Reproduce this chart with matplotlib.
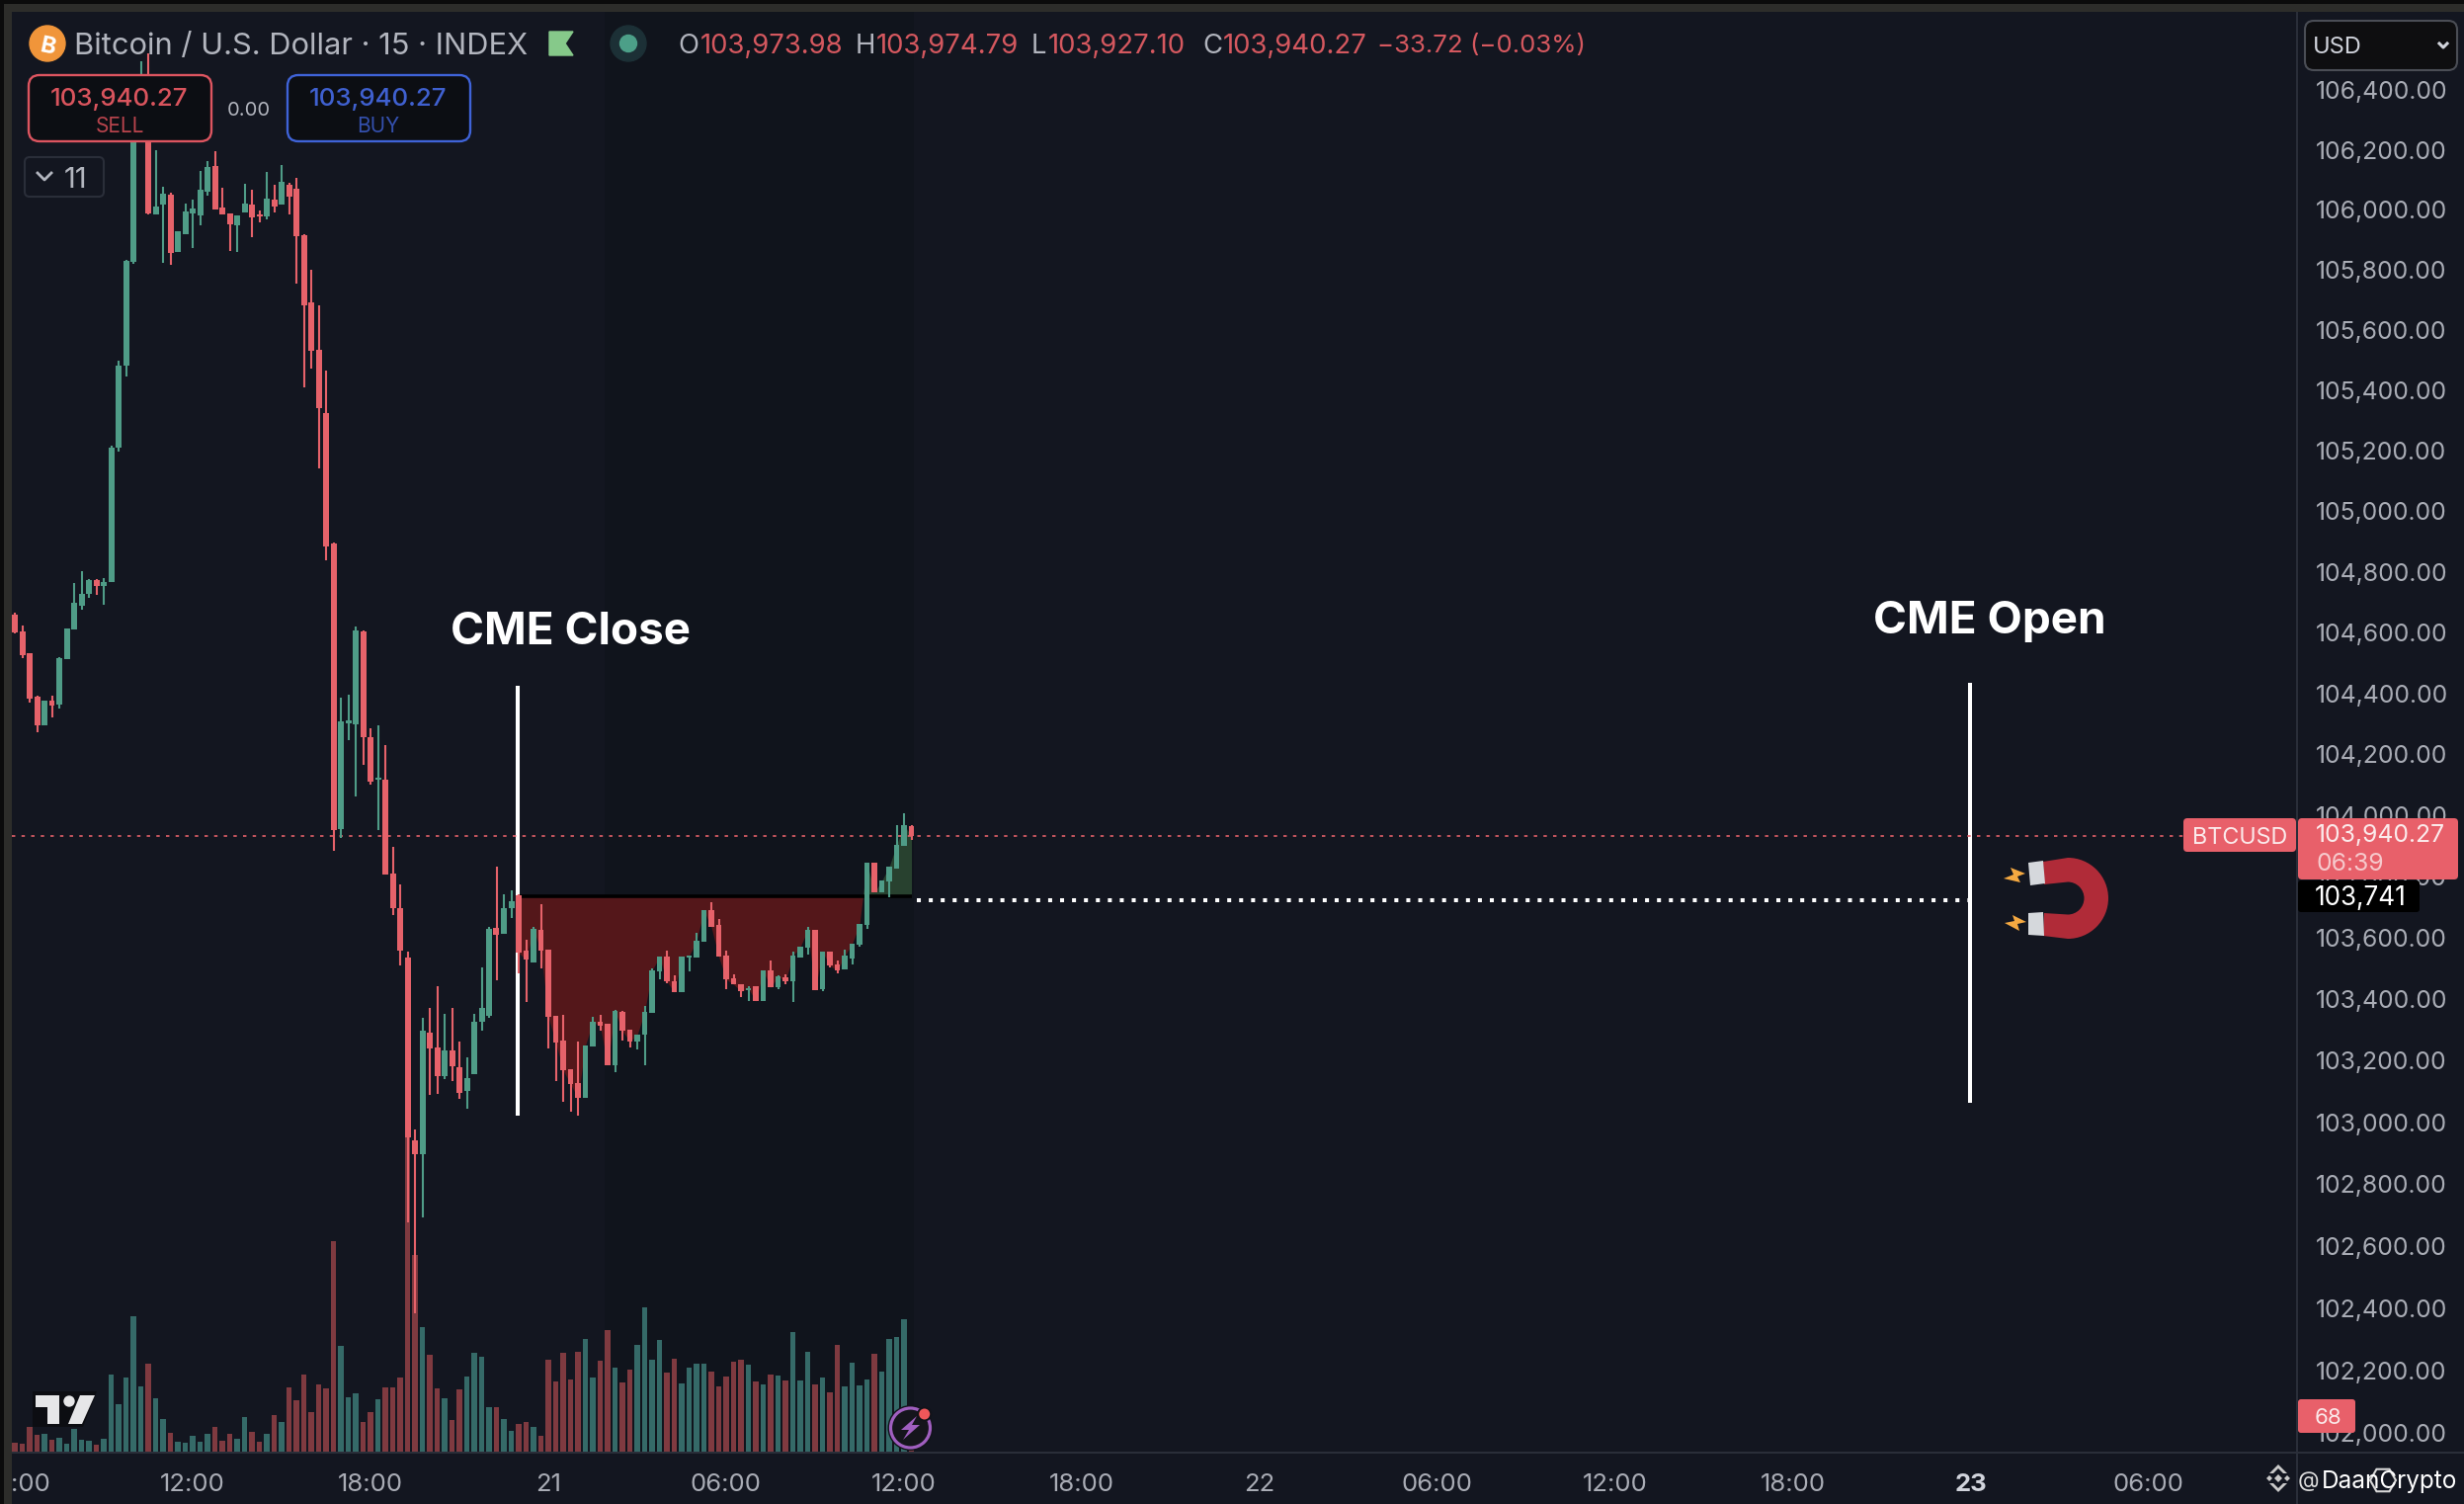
import matplotlib
matplotlib.use("Agg")
import matplotlib.pyplot as plt
import numpy as np
from matplotlib.patches import Rectangle, Circle, Wedge, Polygon, FancyBboxPatch
from matplotlib.ticker import NullLocator, FixedLocator, FixedFormatter
from matplotlib.transforms import ScaledTranslation

plt.rcParams['font.family'] = ['Inter', 'DejaVu Sans']

# ---------- data (15-minute candles) ----------
opens = [104666,104613,104540,104397,104303,104384,104371,104521,104618,104696,
         104735,104780,104761,104774,105218,105490,105835,106297,106429,105993,
         106026,106059,105869,105928,105996,105990,106069,106155,106016,105996,
         105957,106000,106026,105993,105987,106042,106026,106092,106079,105924,
         105700,105542,105333,104901,103963,104309,104306,104612,104264,104124,
         104124,103817,103704,103543,102949,102904,103299,103251,103157,103241,
         103186,103109,103164,103334,103353,103639,103620,103704,103746,103565,
         103527,103633,103569,103353,103273,103180,103135,103087,103254,103334,
         103328,103193,103366,103308,103270,103292,103363,103498,103546,103466,
         103430,103543,103543,103594,103697,103649,103549,103475,103456,103437,
         103449,103401,103501,103446,103478,103466,103543,103575,103633,103440,
         103562,103520,103504,103540,103585,103649,103853,103756,103791,103833,
         103908,103973.98]
highs = [104673,104631,104540,104400,104384,104400,104527,104621,104770,104809,
         104784,104784,104787,105225,105506,105842,106313,106505,106531,106207,
         106085,106066,105938,106029,106042,106138,106171,106204,106082,105996,
         105990,106095,106075,106006,106135,106092,106158,106099,106115,105928,
         105808,105691,105474,104904,104394,104404,104628,104615,104293,104303,
         104238,103904,103781,103562,102984,103347,103379,103449,103360,103379,
         103270,103219,103360,103510,103642,103840,103749,103762,103749,103601,
         103642,103717,103569,103353,103356,103180,103270,103257,103350,103356,
         103328,103372,103369,103308,103292,103385,103507,103546,103565,103485,
         103546,103549,103623,103697,103723,103668,103565,103488,103456,103449,
         103449,103501,103533,103485,103488,103562,103578,103642,103633,103562,
         103562,103533,103569,103588,103652,103853,103853,103794,103840,103976,
         104014,103974.79]
lows = [104605,104524,104377,104280,104303,104329,104358,104521,104618,104683,
        104722,104732,104699,104774,105205,105454,105829,106280,105993,105993,
        105832,105826,105869,105928,105882,105957,106056,106010,105993,105872,
        105869,106000,105918,105967,105977,106000,106026,105993,105763,105418,
        105480,105150,104846,103892,103934,104254,104070,104173,104108,103959,
        103814,103681,103517,102684,102392,102700,103096,103100,103147,103141,
        103084,103052,103164,103305,103347,103469,103620,103672,103491,103398,
        103527,103507,103248,103141,103074,103042,103029,103087,103254,103305,
        103193,103170,103273,103251,103244,103193,103363,103472,103459,103430,
        103430,103498,103543,103594,103642,103546,103440,103456,103414,103401,
        103401,103401,103446,103440,103456,103398,103543,103552,103437,103433,
        103511,103491,103504,103520,103578,103636,103756,103756,103740,103833,
        103908,103927.10]
closes = [104608,104534,104390,104303,104384,104367,104524,104621,104706,104735,
          104780,104761,104774,105218,105490,105839,106297,106445,105996,106019,
          106062,105865,105938,106003,106013,106075,106151,106010,105993,105960,
          105990,106029,105983,105987,106046,106019,106102,106052,105921,105691,
          105539,105350,104891,103959,104316,104319,104615,104264,104118,104131,
          103814,103704,103565,102959,102904,103305,103248,103157,103241,103190,
          103103,103151,103334,103379,103636,103617,103704,103726,103559,103536,
          103636,103565,103350,103267,103177,103132,103087,103257,103334,103321,
          103193,103369,103305,103270,103292,103366,103501,103546,103466,103430,
          103546,103549,103598,103697,103642,103546,103472,103456,103433,103443,
          103401,103501,103446,103482,103466,103549,103578,103633,103437,103562,
          103517,103501,103549,103588,103652,103853,103756,103794,103840,103911,
          103976,103940.27]
volumes = [9,8,25,17,18,12,14,8,23,12,
           11,7,13,78,48,75,137,66,89,54,
           33,19,10,9,16,10,18,25,11,18,
           13,35,20,10,18,37,30,65,52,78,
           40,68,64,213,107,55,59,30,40,53,
           65,65,75,320,199,126,98,64,54,32,
           63,76,100,96,45,45,33,21,28,30,
           25,16,93,71,100,73,101,114,75,92,
           123,85,70,83,108,146,93,113,80,94,
           69,85,89,89,81,66,76,91,93,88,
           71,68,78,77,72,121,72,101,68,75,
           60,108,66,90,67,73,99,81,114,116,
           134,3]

price_ticks = [102000,102200,102400,102600,102800,103000,103200,103400,103600,103800,
               104000,104200,104400,104600,104800,105000,105200,105400,105600,105800,
               106000,106200,106400]
time_ticks = [24,48,72,96,120,144,168,192,216,240,264,288]
time_labels = ['12:00','18:00','21','06:00','12:00','18:00','22','06:00','12:00','18:00','23','06:00']

cme_gap_level = 103743       # black level line
cme_gap_dotted = 103729      # white dotted guide
last_close = 103940.27
cme_close_bar = 68
cme_open_bar = 264
cme_close_span = (103030, 104432)
cme_open_span = (103070, 104443)

# ---------- palette ----------
BG = '#131620'
BAND = '#10141c'
GREEN = '#4f9c87'
RED = '#e6626a'
VGREEN = '#356a68'
VRED = '#7f3a40'
LINE = '#2a2e39'
TXT = '#a9acb5'
LAB = '#e8606a'

W, H = 2494, 1522
fig = plt.figure(figsize=(W/100, H/100), dpi=100, facecolor=BG)
L, R, T, B = 12, 2325, 12, 1470
pos = [L/W, 1-B/H, (R-L)/W, (B-T)/H]

idx = np.arange(len(opens))
o, hi, lo, c = map(np.array, (opens, highs, lows, closes))
up = c >= o
xlim = (-0.4, 308.0)

# volume pane
vax = fig.add_axes(pos, zorder=1, facecolor=BG)
vax.set_xlim(*xlim)
vax.set_ylim(0, B-T)
vax.axis('off')
vax.add_patch(Rectangle((79.6, 0), 41.7, B-T, color=BAND, lw=0, zorder=0))
vax.bar(idx, volumes, width=0.72, bottom=1, color=[VGREEN if u else VRED for u in up], lw=0, zorder=1)

# price pane
ax = fig.add_axes(pos, zorder=2, facecolor='none')
ax.set_yscale('log')
ax.set_xlim(*xlim)
ax.set_ylim(101943, 106671)
for s in ax.spines.values():
    s.set_visible(False)

# gap fills follow the closes
sub = idx >= cme_close_bar
ax.fill_between(idx[sub], c[sub], cme_gap_level, where=c[sub] <= cme_gap_level,
                interpolate=True, color='#54171a', lw=0, zorder=1)
ax.fill_between(idx[sub], c[sub], cme_gap_level, where=c[sub] >= cme_gap_level,
                interpolate=True, color='#28412f', lw=0, zorder=1)

# annotations under the candles
ax.vlines([cme_close_bar-0.15], *cme_close_span, color='white', lw=2.9, zorder=2)
ax.vlines([cme_open_bar-0.15], *cme_open_span, color='white', lw=2.9, zorder=2)
ax.hlines(cme_gap_level, cme_close_bar, idx[-1], color='black', lw=2.6, zorder=3)
ax.plot([idx[-1]+0.75, cme_open_bar-0.2], [cme_gap_dotted]*2, color='white', lw=2.9,
        ls=(0, (1, 2)), dash_capstyle='butt', zorder=3)
ax.plot([xlim[0], 292.7], [last_close]*2, color=RED, lw=1.3, alpha=0.9,
        ls=(0, (1.9, 3.5)), dash_capstyle='butt', zorder=2.5)

# candles
cols = [GREEN if u else RED for u in up]
ax.vlines(idx, lo, hi, colors=cols, lw=1.5, zorder=4)
ax.bar(idx, np.abs(c-o), bottom=np.minimum(o, c), width=0.8, color=cols, lw=0, zorder=5)

# axes ticks
ax.yaxis.tick_right()
ax.yaxis.set_major_locator(FixedLocator(price_ticks))
ax.yaxis.set_major_formatter(FixedFormatter([f'{p:,.2f}' for p in price_ticks]))
ax.yaxis.set_minor_locator(NullLocator())
ax.tick_params(axis='y', length=0, pad=13.7, labelsize=17.8, labelcolor=TXT)
ax.set_xticks(time_ticks)
ax.set_xticklabels(time_labels)
ax.tick_params(axis='x', length=0, pad=15, labelsize=18.5, labelcolor=TXT)
ax.get_xticklabels()[time_labels.index('23')].set(color='#d1d4dc', fontweight='bold')
up_shift = ScaledTranslation(0, 2.5/100, fig.dpi_scale_trans)
for lab in ax.yaxis.get_majorticklabels():
    lab.set_transform(lab.get_transform() + up_shift)

# ---------- overlay in pixel coordinates ----------
ov = fig.add_axes([0, 0, 1, 1], zorder=5, facecolor='none')
ov.set_xlim(0, W)
ov.set_ylim(H, 0)
ov.axis('off')

def rect(x0, y0, x1, y1, color, z=1):
    ov.add_patch(Rectangle((x0, y0), x1-x0, y1-y0, color=color, lw=0, zorder=z))

def box(x0, y0, x1, y1, fc, ec, lw=1.5, r=8, z=6):
    ov.add_patch(FancyBboxPatch((x0+r, y0+r), x1-x0-2*r, y1-y0-2*r,
                                boxstyle=f'round,pad={r},rounding_size={r}',
                                fc=fc, ec=ec, lw=lw, zorder=z))

def txt(x, y, s, color=TXT, size=17, ha='left', weight='normal', z=8, **kw):
    ov.text(x, y, s, color=color, fontsize=size, ha=ha, va='center_baseline',
            fontweight=weight, zorder=z, **kw)

# window chrome
rect(0, 0, W, 4, '#0b0b0b', 9)
rect(0, 4, W, 12, '#2d2d2a', 9)
rect(0, 0, 4, H, '#0b0b0b', 10)
rect(4, 4, 12, H, '#2d2d2a', 9)
rect(R-1, 12, R+1, H, LINE, 1)
rect(12, B-1, W, B+1, LINE, 1)

# header
ov.add_patch(Circle((48, 44), 18, color='#f0953a', zorder=8))
txt(48, 44, 'B', color='white', size=17, ha='center', weight='bold', rotation=-12, z=9)
txt(75, 44, 'Bitcoin / U.S. Dollar · 15 · INDEX', color='#b2b5be', size=22.2)
ov.add_patch(Polygon([(556, 32), (580, 32), (572, 44), (580, 56), (556, 56)], color='#86c98a', zorder=8))
ov.add_patch(Circle((636, 44), 18, color='#1c3036', zorder=8))
ov.add_patch(Circle((636, 44), 8.5, color='#4c9f88', zorder=9))
HR = '#d5585f'
for x, s, col in [(686, 'O', '#b2b5be'), (709, '103,973.98', HR), (866, 'H', '#b2b5be'), (887, '103,974.79', HR),
                  (1044, 'L', '#b2b5be'), (1061, '103,927.10', HR), (1217, 'C', '#b2b5be'), (1238, '103,940.27', HR)]:
    txt(x, 44, s, color=col, size=19.8)
txt(1394, 44, '−33.72 (−0.03%)', color=HR, size=18.6)

# sell / buy
box(29, 76, 214, 143, '#0c0e13', '#dd5560', lw=1.7, r=11)
box(291, 76, 476, 143, '#0c0e13', '#3f63d8', lw=1.7, r=11)
txt(121, 98, '103,940.27', color='#d9545d', size=18.6, ha='center', weight='medium')
txt(121, 126, 'SELL', color='#b9444d', size=15, ha='center')
txt(383, 98, '103,940.27', color='#3f60cf', size=18.6, ha='center', weight='medium')
txt(383, 126, 'BUY', color='#3450ae', size=15, ha='center')
txt(252, 110, '0.00', color='#b2b5be', size=14.5, ha='center')
box(25, 159, 105, 199, '#131620', LINE, lw=1.5, r=5)
ov.plot([38, 45, 52], [175, 182, 175], color='#b2b5be', lw=2, zorder=8)
txt(65, 179, '11', color='#b2b5be', size=21)

# USD box
box(2333, 21, 2487, 71, '#0e0e10', '#4a4d55', lw=1.5, r=9)
txt(2341, 46, 'USD', color='#d1d4dc', size=17)
ov.plot([2469, 2473, 2477], [44, 48, 44], color='#d1d4dc', lw=2.2, zorder=8)

# CME labels
txt(578, 636, 'CME Close', color='white', size=33, ha='center', weight='bold')
txt(2014, 625, 'CME Open', color='white', size=33, ha='center', weight='bold')

# price labels
box(2210, 828, 2324, 862, LAB, LAB, lw=0, r=4, z=7)
txt(2219, 845, 'BTCUSD', color='#fbeaeb', size=16.8)
box(2326, 828, 2488, 890, LAB, LAB, lw=0, r=4, z=7)
txt(2344, 843, '103,940.27', color='#fbeaeb', size=17.8)
txt(2344, 872, '06:39', color='#f6c9cc', size=17.8)
box(2326, 891, 2449, 923, '#000000', '#000000', lw=0, r=3, z=7)
txt(2343, 906, '103,741', color='white', size=18.8)
box(2326, 1416, 2384, 1450, LAB, LAB, lw=0, r=3, z=7)
txt(2356, 1433, '68', color='#fbeaeb', size=16, ha='center')

# magnet
MR = '#b02b38'
ov.add_patch(Wedge((2093, 909), 41, -90, 90, width=24.5, color=MR, lw=0, zorder=6))
ov.add_patch(Polygon([(2068, 872), (2093, 868), (2093, 892.5), (2069, 895)], color=MR, lw=0, zorder=6))
ov.add_patch(Polygon([(2069, 924), (2093, 925.5), (2093, 950), (2068, 947)], color=MR, lw=0, zorder=6))
ov.add_patch(Polygon([(2053, 873), (2068, 871), (2070, 894), (2055, 896)], color='#d5d8dc', lw=0, zorder=7))
ov.add_patch(Polygon([(2053, 924), (2068, 923), (2069, 947), (2053, 946)], color='#d5d8dc', lw=0, zorder=7))
ov.add_patch(Polygon([(2028, 889), (2038, 885), (2035, 878), (2050, 884), (2042, 887), (2045, 893)], color='#f5a941', lw=0, zorder=7))
ov.add_patch(Polygon([(2029, 934), (2039, 932), (2037, 926), (2051, 933), (2042, 935), (2044, 942)], color='#f5a941', lw=0, zorder=7))

# TradingView logo
ov.add_patch(Polygon([(33, 1408), (98, 1408), (84, 1444), (33, 1444)], color='#0c0d12', lw=0, zorder=6))
ov.add_patch(Polygon([(36, 1412), (60, 1412), (60, 1441), (48, 1441), (48, 1424), (36, 1424)], color='#e6e6e8', lw=0, zorder=7))
ov.add_patch(Circle((70, 1418), 5.7, color='#e6e6e8', lw=0, zorder=7))
ov.add_patch(Polygon([(81, 1412), (96, 1412), (83, 1441), (69, 1441)], color='#e6e6e8', lw=0, zorder=7))

# event badge
ov.add_patch(Circle((921.5, 1445), 23, color='#12131a', lw=0, zorder=7))
ov.add_patch(Circle((921.5, 1445), 20, fc='#15151c', ec='#a05fc0', lw=2.3, zorder=8))
ov.add_patch(Polygon([(928, 1433), (912, 1447), (920, 1447), (914, 1457), (931, 1442), (923, 1442)], color='#a05fc0', lw=0, zorder=9))
ov.add_patch(Circle((935.7, 1431), 7.5, color='#12131a', lw=0, zorder=9))
ov.add_patch(Circle((935.7, 1431), 5.5, color='#f0575a', lw=0, zorder=10))

# watermark
GREY = '#c9c9c9'
for dx, dy, r in [(0, 0, 4), (-9, 0, 3), (9, 0, 3)]:
    ov.add_patch(Polygon([(2306+dx-r, 1496+dy), (2306+dx, 1496+dy-r), (2306+dx+r, 1496+dy), (2306+dx, 1496+dy+r)], color=GREY, lw=0, zorder=8))
ov.add_patch(Polygon([(2306, 1482), (2315, 1491), (2311, 1491), (2306, 1486), (2301, 1491), (2297, 1491)], color=GREY, lw=0, zorder=8))
ov.add_patch(Polygon([(2306, 1510), (2315, 1501), (2311, 1501), (2306, 1506), (2301, 1501), (2297, 1501)], color=GREY, lw=0, zorder=8))
ang = np.deg2rad(np.arange(0, 360, 60))
ov.add_patch(Polygon(np.c_[2412+13*np.cos(ang), 1498+13*np.sin(ang)], fill=False, ec='#d8d8d8', lw=1.5, zorder=8))
txt(2326, 1497, '@', color='#dddddd', size=16)
txt(2350, 1497, 'DaanCrypto', color='white', size=17.5)
txt(11, 1500, ':00', color=TXT, size=18.5)

fig.savefig('out.png', dpi=100, facecolor=BG)
